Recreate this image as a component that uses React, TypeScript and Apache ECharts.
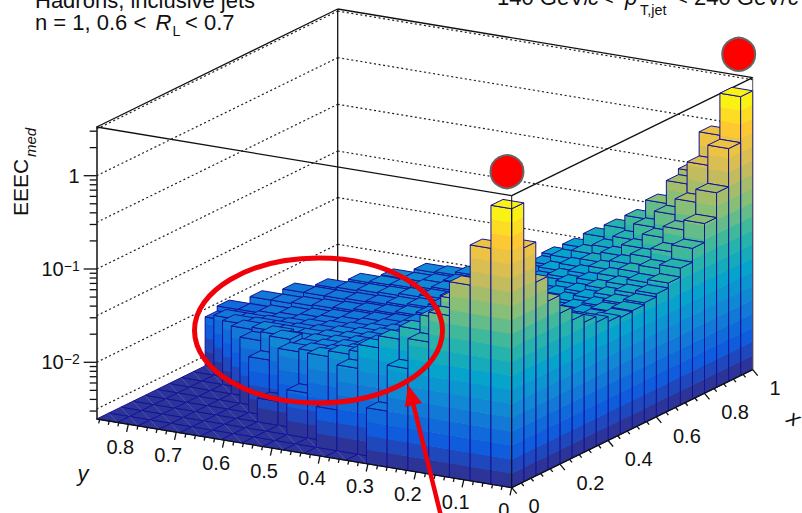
import React, { useEffect, useRef } from "react";
import * as echarts from "echarts";

// EEEC values per x bin (20 bins in x on 0..1), indexed by y bin (20 bins in y on 0..0.866)
const col0 = [2.41, 0.833, 0.309, 0.134, 0.0641, 0.0305, 0.00982];
const col1 = [0.793, 0.459, 0.267, 0.171, 0.0998, 0.069, 0.0501, 0.0372, 0.0206, 0.00679];
const col2 = [0.294, 0.219, 0.148, 0.0998, 0.0673, 0.0501, 0.0401, 0.0329, 0.0257, 0.0232, 0.0201, 0.0075];
const col3 = [0.159, 0.128, 0.0974, 0.069, 0.0526, 0.0411, 0.0337, 0.0283, 0.0238, 0.0206, 0.0186, 0.0178, 0.0165, 0.00445];
const col4 = [0.102, 0.0861, 0.069, 0.0539, 0.0432, 0.0354, 0.0298, 0.0257, 0.0227, 0.0201, 0.0182, 0.0169, 0.0157, 0.0178, 0.00982];
const col5 = [0.0743, 0.0657, 0.0553, 0.0454, 0.0372, 0.0313, 0.0269, 0.0238, 0.0211, 0.0191, 0.0173, 0.0161, 0.0153, 0.0149, 0.0157, 0.0126];
const col6 = [0.061, 0.0539, 0.0454, 0.0381, 0.0329, 0.0283, 0.025, 0.0221, 0.0201, 0.0182, 0.0165, 0.0153, 0.0146, 0.0139, 0.0139, 0.0139, 0.0132];
const col7 = [0.0526, 0.0477, 0.0411, 0.0346, 0.0298, 0.0263, 0.0232, 0.0206, 0.0186, 0.0169, 0.0157, 0.0146, 0.0139, 0.0132, 0.0126, 0.0123, 0.0123, 0.012];
const col8 = [0.0465, 0.0432, 0.0372, 0.0321, 0.0276, 0.0244, 0.0216, 0.0196, 0.0178, 0.0161, 0.0149, 0.0139, 0.0132, 0.0126, 0.012, 0.0114, 0.0111, 0.0108, 0.0108];
const col9 = [0.0443, 0.0401, 0.0354, 0.0305, 0.0263, 0.0232, 0.0206, 0.0186, 0.0169, 0.0153, 0.0142, 0.0135, 0.0126, 0.012, 0.0114, 0.0108, 0.0103, 0.00982, 0.00935, 0.00827];
const col10 = [0.0454, 0.0411, 0.0354, 0.0305, 0.0263, 0.0232, 0.0206, 0.0186, 0.0169, 0.0153, 0.0142, 0.0132, 0.0126, 0.012, 0.0114, 0.0108, 0.0103, 0.00982, 0.00935, 0.00935];
const col11 = [0.0477, 0.0432, 0.0372, 0.0321, 0.0283, 0.0244, 0.0216, 0.0196, 0.0178, 0.0161, 0.0149, 0.0139, 0.0132, 0.0126, 0.012, 0.0117, 0.0114, 0.0111, 0.0111];
const col12 = [0.0513, 0.0477, 0.0411, 0.0354, 0.0305, 0.0263, 0.0232, 0.0206, 0.0186, 0.0169, 0.0157, 0.0146, 0.0139, 0.0132, 0.0129, 0.0126, 0.0126, 0.0126];
const col13 = [0.0581, 0.0539, 0.0465, 0.0391, 0.0329, 0.0283, 0.025, 0.0221, 0.0201, 0.0182, 0.0169, 0.0157, 0.0149, 0.0142, 0.0139, 0.0135, 0.0132];
const col14 = [0.0725, 0.0657, 0.0553, 0.0454, 0.0372, 0.0321, 0.0276, 0.0244, 0.0216, 0.0196, 0.0178, 0.0165, 0.0157, 0.0149, 0.0146, 0.0142];
const col15 = [0.102, 0.0861, 0.069, 0.0539, 0.0432, 0.0354, 0.0298, 0.0257, 0.0227, 0.0201, 0.0182, 0.0169, 0.0157, 0.0149, 0.0149];
const col16 = [0.163, 0.128, 0.0974, 0.069, 0.0526, 0.0411, 0.0337, 0.0283, 0.0238, 0.0206, 0.0186, 0.0178, 0.0165, 0.0161];
const col17 = [0.301, 0.219, 0.148, 0.0998, 0.0673, 0.0501, 0.0401, 0.0329, 0.0257, 0.0232, 0.0201, 0.0108];
const col18 = [0.774, 0.471, 0.273, 0.155, 0.0974, 0.0707, 0.0526, 0.0372, 0.0276, 0.0108];
const col19 = [2.41, 0.854, 0.316, 0.134, 0.0641, 0.0305, 0.00982];
const columns = [col0, col1, col2, col3, col4, col5, col6, col7, col8, col9, col10, col11, col12, col13, col14, col15, col16, col17, col18, col19];

const xTickLabels = ["0", "0.2", "0.4", "0.6", "0.8", "1"];
const xTickValues = [0, 0.2, 0.4, 0.6, 0.8, 1];
const yTickLabels = ["0", "0.1", "0.2", "0.3", "0.4", "0.5", "0.6", "0.7", "0.8"];
const yTickValues = [0, 0.1, 0.2, 0.3, 0.4, 0.5, 0.6, 0.7, 0.8];
const zMajorTicks = [0.01, 0.1, 1];
const zMinorTicks = [0.003, 0.004, 0.005, 0.006, 0.007, 0.008, 0.009, 0.02, 0.03, 0.04, 0.05, 0.06, 0.07, 0.08, 0.09, 0.2, 0.3, 0.4, 0.5, 0.6, 0.7, 0.8, 0.9, 2, 3];
const wallGridValues = [3.162, 1, 0.3162, 0.1, 0.03162, 0.01, 0.003162];

const BINS = 20;
const yMax = 0.866;
const zMin = Math.pow(10, -2.608);
const zMax = Math.pow(10, 0.522);
const zPeak = 2.41;
const LEVELS = 20;

// floor corners of the box on the page
const F = [511.7, 487.7];
const Rc = [752.7, 369.7];
const Lc = [96.7, 419];
const NAVY = "#12129a";
const BLACK = "#111111";
const FONT = '"Liberation Sans", Arial, sans-serif';

const birdR = [0.2082, 0.0592, 0.078, 0.0232, 0.1802, 0.5301, 0.8186, 0.9956, 0.9764];
const birdG = [0.1664, 0.3599, 0.5041, 0.6419, 0.7178, 0.7492, 0.7328, 0.7862, 0.9832];
const birdB = [0.5293, 0.8684, 0.8385, 0.7914, 0.6425, 0.4662, 0.3499, 0.1968, 0.0539];

function bird(k: number) {
  const t = Math.min(0.9999, Math.max(0, (k + 0.5) / LEVELS)) * 8;
  const a = Math.floor(t);
  const f = t - a;
  const c = (s: number[]) => Math.round((s[a] + (s[a + 1] - s[a]) * f) * 255);
  return `rgb(${c(birdR)},${c(birdG)},${c(birdB)})`;
}

const zAt = (i: number, j: number) => {
  const c = columns[i];
  return c && j >= 0 && j < c.length ? c[j] : zMin;
};

const plan = (u: number, v: number) => [
  F[0] + u * (Rc[0] - F[0]) + v * (Lc[0] - F[0]),
  F[1] + u * (Rc[1] - F[1]) + v * (Lc[1] - F[1]),
];

function heightOf(api: any, z: number) {
  return api.coord([0, zMin])[1] - api.coord([0, z])[1];
}

function renderBar(_: any, api: any) {
  const i = api.value(0);
  const j = api.value(1);
  const z = api.value(2);
  const h = heightOf(api, z);
  const bandPx = heightOf(api, zPeak) / LEVELS;
  const c = (a: number, b: number) => plan(a / BINS, b / BINS);
  const p00 = c(i, j);
  const p10 = c(i + 1, j);
  const p01 = c(i, j + 1);
  const p11 = c(i + 1, j + 1);
  const up = (p: number[], hh: number) => [p[0], p[1] - hh];
  const children: any[] = [];
  const face = (a: number[], b: number[], h0: number, h1: number) => {
    if (h1 <= h0 + 0.01) return;
    let k = Math.floor(h0 / bandPx);
    while (k * bandPx < h1 && k < LEVELS) {
      const lo = Math.max(h0, k * bandPx);
      const hi = Math.min(h1, (k + 1) * bandPx + 0.6);
      children.push({
        type: "polygon",
        silent: true,
        shape: { points: [up(a, lo), up(b, lo), up(b, hi), up(a, hi)] },
        style: { fill: bird(k), stroke: null },
      });
      k++;
    }
    children.push({
      type: "polygon",
      silent: true,
      shape: { points: [up(a, h0), up(b, h0), up(b, h1), up(a, h1)] },
      style: { fill: "none", stroke: NAVY, lineWidth: 1 },
    });
  };
  if (h > 0.01) {
    face(p00, p01, i > 0 ? heightOf(api, zAt(i - 1, j)) : 0, h);
    face(p00, p10, j > 0 ? heightOf(api, zAt(i, j - 1)) : 0, h);
  }
  const kTop = Math.min(LEVELS - 1, Math.floor(h / bandPx));
  children.push({
    type: "polygon",
    silent: true,
    shape: { points: [up(p00, h), up(p10, h), up(p11, h), up(p01, h)] },
    style: { fill: bird(kTop), stroke: NAVY, lineWidth: 1 },
  });
  if (h <= 0.01) {
    children.push({
      type: "line",
      silent: true,
      shape: { x1: p11[0], y1: p11[1], x2: p00[0], y2: p00[1] },
      style: { stroke: "rgba(255,255,255,0.22)", lineWidth: 0.7 },
    });
  }
  return { type: "group", children };
}

const seg = (a: number[], b: number[], style: any) => ({
  type: "line",
  silent: true,
  shape: { x1: a[0], y1: a[1], x2: b[0], y2: b[1] },
  style,
});

function renderBack(_: any, api: any) {
  const B = plan(1, 1);
  const Hmax = heightOf(api, zMax);
  const solid = { stroke: BLACK, lineWidth: 1.3 };
  const up = (p: number[], h: number) => [p[0], p[1] - h];
  const children: any[] = [];
  wallGridValues.forEach((v) => {
    const h = heightOf(api, v);
    const dots = { stroke: "#222", lineWidth: 1.2, lineDash: [2, 2.6] };
    children.push(seg(up(Lc, h), up(B, h), dots));
    children.push(seg(up(B, h), up(Rc, h), dots));
  });
  children.push(seg(up(Lc, Hmax), up(B, Hmax), solid));
  children.push(seg(up(B, Hmax), up(Rc, Hmax), solid));
  children.push(seg(up(Lc, Hmax), up(F, Hmax), solid));
  children.push(seg(up(F, Hmax), up(Rc, Hmax), solid));
  children.push(seg(B, up(B, Hmax), solid));
  return { type: "group", children };
}

function renderFront(_: any, api: any) {
  const Hmax = heightOf(api, zMax);
  const solid = { stroke: BLACK, lineWidth: 1.3 };
  const up = (p: number[], h: number) => [p[0], p[1] - h];
  const children: any[] = [];
  children.push(seg(F, up(F, Hmax), { stroke: BLACK, lineWidth: 1 }));
  children.push(seg(Rc, up(Rc, Hmax), { stroke: "#555", lineWidth: 1 }));
  children.push(seg(Lc, F, solid));
  children.push(seg(F, Rc, solid));
  // z ticks on the left edge
  const axisX = Lc[0];
  zMajorTicks.forEach((v) => {
    const y = api.coord([0, v])[1];
    children.push(seg([axisX, y], [axisX - 13, y], solid));
  });
  zMinorTicks.forEach((v) => {
    const y = api.coord([0, v])[1];
    children.push(seg([axisX, y], [axisX - 7, y], solid));
  });
  // y axis ticks and labels
  for (let n = 0; n <= 43; n++) {
    const v = (n * 0.02) / yMax;
    const p = plan(0, v);
    const major = n % 5 === 0;
    const l = major ? 1 : 0.5;
    children.push(seg(p, [p[0] - 1.7 * l, p[1] + 7.6 * l], solid));
  }
  yTickValues.forEach((v, idx) => {
    const p = plan(0, v / yMax);
    children.push({
      type: "text",
      silent: true,
      style: { text: yTickLabels[idx], x: p[0] - 8, y: p[1] + 22.5, font: `20px ${FONT}`, fill: "#111", textAlign: "center", textVerticalAlign: "middle" },
    });
  });
  // x axis ticks and labels
  for (let n = 0; n <= 25; n++) {
    const p = plan(n * 0.04, 0);
    const major = n % 5 === 0;
    const l = major ? 1 : 0.5;
    children.push(seg(p, [p[0] + 5 * l, p[1] + 6 * l], solid));
  }
  xTickValues.forEach((v, idx) => {
    const p = plan(v, 0);
    children.push({
      type: "text",
      silent: true,
      style: { text: xTickLabels[idx], x: p[0] + 16.7, y: p[1] + 18.6, font: `20px ${FONT}`, fill: "#111", textAlign: "left", textVerticalAlign: "middle" },
    });
  });
  return { type: "group", children };
}

function barData() {
  const out: number[][] = [];
  for (let i = BINS - 1; i >= 0; i--) {
    for (let j = BINS - 1; j >= 0; j--) {
      out.push([i, j, zAt(i, j)]);
    }
  }
  return out;
}

const txt = (text: string, x: number, baseline: number, size: number, extra: any = {}) => ({
  type: "text",
  z: 50,
  silent: true,
  x,
  y: baseline - 0.3465 * size,
  style: {
    text,
    font: `${extra.italic ? "italic " : ""}${size}px ${FONT}`,
    fill: "#111",
    textAlign: "left",
    textVerticalAlign: "middle",
  },
});

function decadeLabel(v: number) {
  const e = Math.log10(v);
  const r = Math.round(e);
  if (Math.abs(e - r) > 1e-3) return "";
  if (r === 0) return "1";
  if (r === -1) return "10{s|\u22121}";
  if (r === -2) return "10{s|\u22122}";
  return "";
}

export default function App() {
  const ref = useRef<HTMLDivElement>(null);
  useEffect(() => {
    if (!ref.current) return;
    const chart = echarts.init(ref.current, undefined, { renderer: "svg" });
    chart.setOption({
      animation: false,
      backgroundColor: "#ffffff",
      grid: { left: Lc[0], top: 127, width: 656, height: 292, containLabel: false },
      xAxis: { type: "value", min: 0, max: 19, show: false },
      yAxis: {
        type: "log",
        logBase: 10,
        min: zMin,
        max: zMax,
        position: "left",
        axisLine: { show: true, onZero: false, lineStyle: { color: BLACK, width: 1.5 } },
        axisTick: { show: false },
        minorTick: { show: false },
        splitLine: { show: false },
        axisLabel: {
          show: true,
          margin: 17,
          color: "#111",
          fontFamily: "Liberation Sans",
          fontSize: 20,
          formatter: decadeLabel,
          rich: { s: { fontSize: 14, fontFamily: "Liberation Sans", color: "#111", verticalAlign: "top", lineHeight: 20 } },
        },
      },
      series: [
        { type: "custom", name: "frameBack", coordinateSystem: "cartesian2d", z: 1, clip: false, silent: true, data: [[0, 1]], encode: { x: 0, y: 1 }, renderItem: renderBack },
        { type: "custom", name: "EEEC", coordinateSystem: "cartesian2d", z: 2, clip: false, silent: true, data: barData(), encode: { x: 0, y: 2 }, renderItem: renderBar },
        { type: "custom", name: "frameFront", coordinateSystem: "cartesian2d", z: 3, clip: false, silent: true, data: [[0, 1]], encode: { x: 0, y: 1 }, renderItem: renderFront },
      ],
      graphic: [
        txt("Hadrons, inclusive jets", 35, 8, 22),
        txt("n = 1, 0.6 <", 35, 30, 22),
        txt("R", 155.5, 30, 22, { italic: true }),
        txt("L", 172.5, 36, 14),
        txt("< 0.7", 185, 30, 22),
        txt("140 GeV/", 497, 5, 22),
        txt("c", 588, 5, 22, { italic: true }),
        txt("<", 601, 5, 22),
        txt("p", 625, 5, 22, { italic: true }),
        txt("T,jet", 640, 15, 14.4),
        txt("< 240 GeV/", 675, 5, 22),
        txt("c", 788, 5, 22, { italic: true }),
        {
          type: "text", z: 50, silent: true, x: 31, y: 216, rotation: Math.PI / 2,
          style: { text: "EEEC", font: `21px ${FONT}`, fill: "#111", textAlign: "left", textVerticalAlign: "bottom" },
        },
        {
          type: "text", z: 50, silent: true, x: 37.5, y: 157, rotation: Math.PI / 2,
          style: { text: "med", font: `italic 15px ${FONT}`, fill: "#111", textAlign: "left", textVerticalAlign: "bottom" },
        },
        {
          type: "text", z: 50, silent: true, x: 83, y: 473,
          style: { text: "y", font: `italic 22px ${FONT}`, fill: "#111", textAlign: "center", textVerticalAlign: "middle" },
        },
        {
          type: "text", z: 50, silent: true, x: 794, y: 418, rotation: -0.55,
          style: { text: "x", font: `italic 22px ${FONT}`, fill: "#111", textAlign: "center", textVerticalAlign: "middle" },
        },
        { type: "circle", z: 60, silent: true, shape: { cx: 507, cy: 171.7, r: 16.5 }, style: { fill: "#ff0000", stroke: "#666", lineWidth: 2 } },
        { type: "circle", z: 60, silent: true, shape: { cx: 738.7, cy: 54.3, r: 16.5 }, style: { fill: "#ff0000", stroke: "#666", lineWidth: 2 } },
        { type: "ellipse", z: 60, silent: true, shape: { cx: 318.5, cy: 330.5, rx: 124, ry: 72.5 }, style: { fill: "none", stroke: "#f00008", lineWidth: 5 } },
        { type: "line", z: 60, silent: true, shape: { x1: 413, y1: 403, x2: 441, y2: 516 }, style: { stroke: "#f00008", lineWidth: 4.5 } },
        { type: "polygon", z: 60, silent: true, shape: { points: [[408, 385], [405, 407], [422, 403]] }, style: { fill: "#f00008" } },
      ],
    });
    return () => chart.dispose();
  }, []);
  return <div ref={ref} style={{ position: "fixed", left: 0, top: 0, width: 802, height: 513 }} />;
}
